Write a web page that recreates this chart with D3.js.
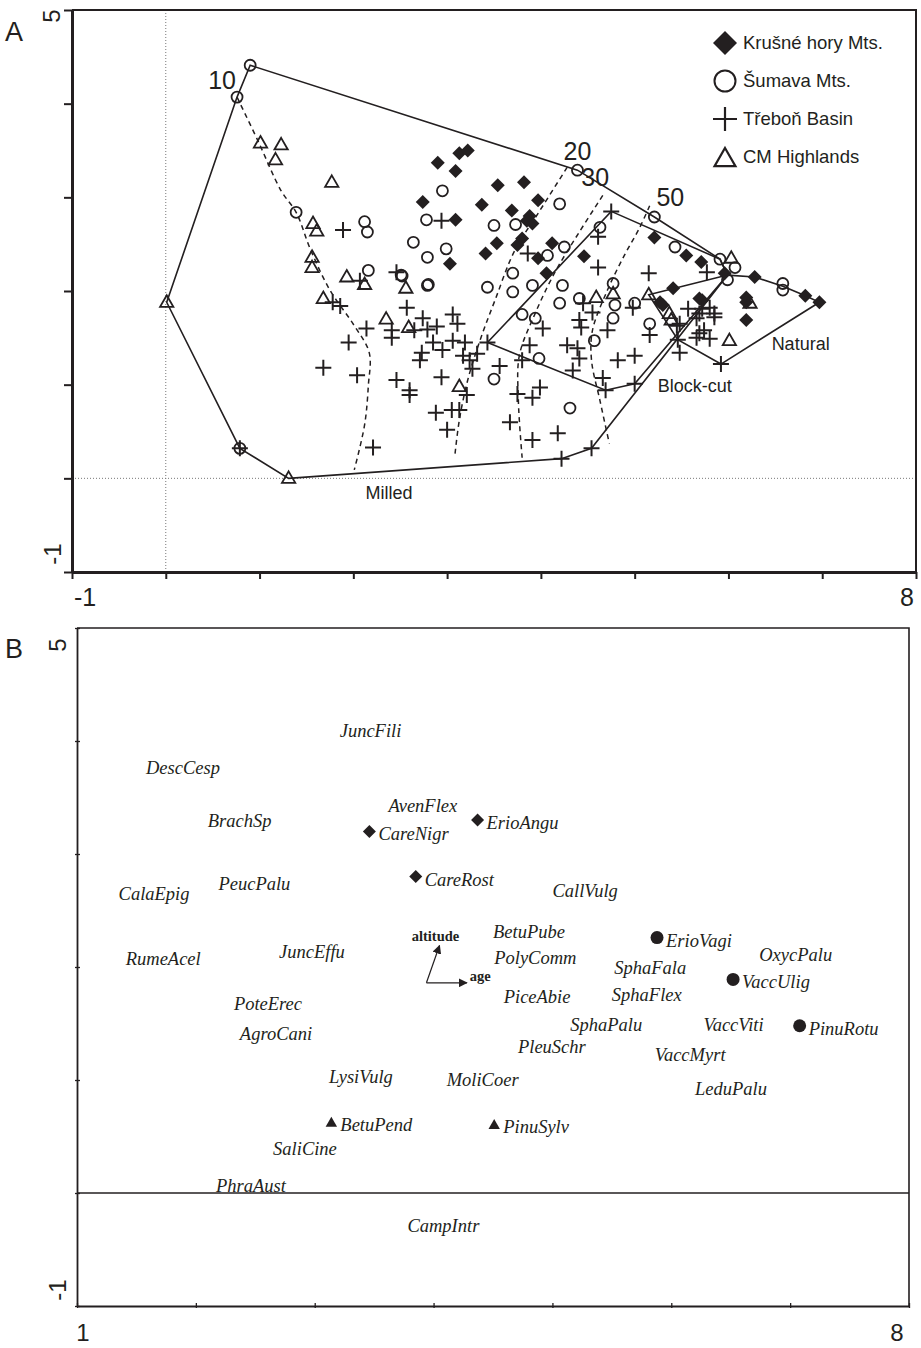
<!DOCTYPE html>
<html>
<head>
<meta charset="utf-8">
<script src="https://cdn.jsdelivr.net/npm/d3@7"></script>
<style>
body { margin: 0; background: #fff; }
</style>
</head>
<body>
<script>
// ---- panel A : site scores (axis 1, axis 2) ----
const krusne = [[2.90,3.37],[3.13,3.47],[3.22,3.50],[3.09,3.28],[3.54,3.13],[3.82,3.16],[2.74,2.95],
  [3.37,2.92],[3.97,2.97],[3.09,2.76],[3.69,2.86],[3.88,2.80],[3.85,2.75],[3.91,2.72],[3.53,2.51],
  [3.41,2.40],[3.75,2.49],[3.80,2.56],[3.03,2.29],[4.12,2.51],[3.97,2.35],[4.06,2.19],[4.46,2.37],
  [5.21,2.57],[5.55,2.38],[5.71,2.31],[5.96,2.19],[6.28,2.15],[6.82,1.95],[6.97,1.88],[5.41,2.03],
  [5.27,1.88],[5.30,1.85],[5.69,1.92],[5.72,1.90],[6.19,1.93],[6.19,1.88],[6.19,1.69]];

const sumava = [[0.90,4.41],[0.76,4.07],[1.39,2.84],[2.12,2.74],[2.15,2.63],[2.16,2.22],[2.52,2.16],
  [2.79,2.06],[0.79,0.32],[2.95,3.07],[2.78,2.76],[2.64,2.52],[2.99,2.45],[2.79,2.36],[2.80,2.07],
  [2.51,2.17],[3.50,2.70],[3.73,2.71],[4.20,2.93],[4.39,3.29],[4.25,2.47],[4.07,2.38],[3.70,2.19],
  [3.91,2.06],[3.43,2.04],[3.70,1.99],[4.23,2.06],[4.20,1.87],[4.41,1.92],[3.80,1.75],[3.94,1.71],
  [4.63,2.68],[4.77,2.08],[4.79,1.85],[4.77,1.71],[4.57,1.47],[3.50,1.06],[3.98,1.28],[4.31,0.75],
  [5.00,1.87],[5.16,1.65],[5.21,2.79],[5.43,2.47],[5.91,2.34],[6.07,2.25],[5.99,2.12],[6.58,2.08],
  [6.58,2.01]];

const trebon = [[1.89,2.65],[2.07,2.11],[2.46,2.20],[2.94,2.75],[4.75,2.85],[4.61,2.58],[4.61,2.25],
  [3.86,2.40],[0.79,0.32],[1.78,1.88],[1.86,1.84],[2.14,1.60],[1.95,1.45],[1.68,1.18],[2.04,1.10],
  [2.21,0.33],[2.57,1.82],[2.74,1.71],[2.41,1.58],[2.41,1.50],[2.65,1.58],[2.79,1.59],[2.89,1.62],
  [3.06,1.75],[3.11,1.65],[2.85,1.45],[2.73,1.34],[2.71,1.26],[2.95,1.37],[3.06,1.47],[3.19,1.45],
  [3.17,1.31],[3.24,1.26],[3.32,1.33],[3.27,1.17],[3.43,1.45],[3.56,1.20],[2.46,1.05],[2.60,0.94],
  [2.60,0.89],[2.94,1.08],[3.21,0.89],[2.88,0.70],[3.05,0.73],[3.13,0.73],[3.00,0.52],[4.02,1.60],
  [3.88,1.42],[3.80,1.26],[3.99,0.97],[3.91,0.86],[3.75,0.90],[3.67,0.60],[3.91,0.41],[4.18,0.48],
  [4.22,0.21],[4.54,0.32],[4.45,1.87],[4.55,1.77],[4.41,1.69],[4.43,1.61],[4.71,1.58],[4.28,1.42],
  [4.39,1.39],[4.41,1.28],[4.34,1.15],[4.66,1.07],[4.69,0.94],[4.82,1.26],[5.00,1.31],[4.98,1.82],
  [5.45,1.63],[5.48,1.65],[5.16,1.53],[5.46,1.48],[5.48,1.34],[5.57,1.81],[5.69,1.76],[5.72,1.81],
  [5.80,1.82],[5.66,1.71],[5.85,1.76],[5.85,1.72],[5.66,1.50],[5.69,1.55],[5.74,1.58],[5.80,1.49],
  [5.92,1.22],[5.00,1.01],[5.15,2.19],[5.77,2.20]];

const cmHigh = [[0.01,1.88],[1.31,0.00],[1.01,3.58],[1.23,3.56],[1.17,3.40],[1.77,3.16],[1.57,2.72],
  [1.61,2.64],[1.56,2.36],[1.56,2.25],[1.93,2.15],[2.12,2.07],[2.56,2.03],[1.68,1.92],[2.35,1.70],
  [2.59,1.61],[3.13,0.98],[4.59,1.93],[4.77,1.97],[5.15,1.96],[5.37,1.76],[5.39,1.69],[6.01,1.47],
  [6.03,2.35],[6.23,1.87]];

// envelopes of the three harvest types
const hullMilled = [[0.90,4.41],[4.39,3.29],[5.21,2.79],[5.91,2.34],[5.99,2.17],[4.54,0.32],[4.22,0.21],
  [1.31,0.00],[0.79,0.32],[0.01,1.88],[0.76,4.07]];
const hullBlock = [[4.75,2.85],[5.91,2.34],[5.99,2.17],[5.00,1.01],[4.69,0.94],[3.43,1.45]];
const hullNatural = [[5.15,1.96],[5.99,2.17],[6.28,2.15],[6.58,2.05],[6.82,1.95],[6.97,1.88],
  [5.92,1.22],[5.46,1.48]];
const hullLabels = ["Milled", "Block-cut", "Natural"];
const hullLabelPos = [[2.38,-0.15],[5.64,0.99],[6.77,1.44]];

// age isolines (years)
const isoAges = ["10", "20", "30", "50"];
const isoLines = [
  [[0.76,4.07],[0.98,3.61],[1.23,3.07],[1.39,2.84],[1.54,2.45],[1.75,2.01],[2.01,1.63],[2.17,1.34],[2.16,0.99],[2.12,0.57],[2.01,0.09]],
  [[4.28,3.32],[3.99,2.86],[3.72,2.43],[3.51,1.90],[3.35,1.47],[3.22,1.05],[3.13,0.62],[3.08,0.22]],
  [[4.66,3.02],[4.41,2.63],[4.15,2.20],[3.93,1.74],[3.77,1.31],[3.76,0.83],[3.80,0.22]],
  [[5.16,2.91],[5.05,2.67],[4.89,2.38],[4.71,2.01],[4.55,1.58],[4.54,1.26],[4.63,0.83],[4.73,0.37]]
];
const isoLabelPos = [[0.60,4.25],[4.39,3.49],[4.58,3.21],[5.38,3.00]];

const regions = ["Krušné hory Mts.", "Šumava Mts.", "Třeboň Basin", "CM Highlands"];

// ---- panel B : species scores ----
const spNames = ["JuncFili","DescCesp","AvenFlex","BrachSp","CalaEpig","PeucPalu","CallVulg","BetuPube",
  "OxycPalu","PolyComm","SphaFala","RumeAcel","JuncEffu","PoteErec","SphaFlex","PiceAbie","AgroCani",
  "SphaPalu","VaccViti","PleuSchr","VaccMyrt","LysiVulg","MoliCoer","LeduPalu","SaliCine","PhraAust","CampIntr"];
const spX = [3.21,1.58,3.62,2.10,1.35,2.19,5.00,4.50,6.74,4.51,5.52,1.41,2.70,2.32,5.50,4.59,2.37,
  5.15,6.27,4.71,5.86,3.12,4.11,6.20,2.65,2.17,3.78];
const spY = [4.08,3.75,3.42,3.28,2.64,2.73,2.66,2.30,2.10,2.07,1.98,2.06,2.12,1.66,1.74,1.73,1.40,
  1.48,1.48,1.28,1.21,1.02,0.99,0.91,0.38,0.05,-0.30];

// species with a symbol (diamond: Krušné hory, circle: peat bog, triangle: lowland)
const markNames = ["CareNigr","ErioAngu","CareRost","ErioVagi","VaccUlig","PinuRotu","BetuPend","PinuSylv"];
const markX = [3.46,4.37,3.85,5.88,6.52,7.08,3.14,4.51];
const markY = [3.20,3.30,2.80,2.26,1.89,1.48,0.63,0.61];
const markType = ["diamond","diamond","diamond","circle","circle","circle","triangle","triangle"];

// environmental variables (passive)
const envNames = ["altitude", "age"];
const envOrigin = [3.94, 1.86];
const envTips = [[4.05,2.19],[4.28,1.86]];

const W = 921, H = 1348;
const ink = "#231f20";

const svg = d3.select("body").append("svg")
  .attr("width", W).attr("height", H)
  .style("font-family", "'Liberation Sans', Arial, sans-serif");

svg.append("rect").attr("width", W).attr("height", H).attr("fill", "#fff");

function symbolPath(type, s) {
  if (type === "diamond") return `M0,${-s}L${s},0L0,${s}L${-s},0Z`;
  if (type === "plus") return `M${-s},0H${s}M0,${-s}V${s}`;
  if (type === "triangle") return `M0,${-s}L${s * 0.95},${s * 0.65}L${-s * 0.95},${s * 0.65}Z`;
  return "";
}

// ================= PANEL A =================
const xA = d3.scaleLinear().domain([-1, 8]).range([72, 916]);
const yA = d3.scaleLinear().domain([-1, 5]).range([572, 10]);
const gA = svg.append("g");

// dotted zero lines
gA.append("line").attr("x1", xA(0)).attr("x2", xA(0)).attr("y1", yA(5)).attr("y2", yA(-1))
  .attr("stroke", "#777").attr("stroke-dasharray", "1,2");
gA.append("line").attr("x1", xA(-1)).attr("x2", xA(8)).attr("y1", yA(0)).attr("y2", yA(0))
  .attr("stroke", "#777").attr("stroke-dasharray", "1,2");

// frame
gA.append("path")
  .attr("d", `M${xA(-1)},${yA(5)}H${xA(8)}V${yA(-1)}`)
  .attr("fill", "none").attr("stroke", ink).attr("stroke-width", 2);

const axL = gA.append("g").attr("transform", `translate(${xA(-1)},0)`)
  .call(d3.axisLeft(yA).tickValues(d3.range(-1, 6)).tickSize(8).tickSizeOuter(0).tickFormat(""));
const axB = gA.append("g").attr("transform", `translate(0,${yA(-1)})`)
  .call(d3.axisBottom(xA).tickValues(d3.range(-1, 9)).tickSize(7).tickSizeOuter(0).tickFormat(""));
[axL, axB].forEach(a => {
  a.select(".domain").attr("stroke", ink).attr("stroke-width", 3);
  a.selectAll(".tick line").attr("stroke", ink).attr("stroke-width", 2);
});

// end labels
gA.append("text").attr("transform", `translate(60,${yA(5) + 6}) rotate(-90)`)
  .attr("text-anchor", "middle").attr("font-size", 24).attr("fill", ink).text("5");
gA.append("text").attr("transform", `translate(61,${yA(-1) - 18}) rotate(-90)`)
  .attr("text-anchor", "middle").attr("font-size", 24).attr("fill", ink).text("-1");
gA.append("text").attr("x", xA(-1) + 13).attr("y", 606)
  .attr("text-anchor", "middle").attr("font-size", 25).attr("fill", ink).text("-1");
gA.append("text").attr("x", xA(8) - 9).attr("y", 606)
  .attr("text-anchor", "middle").attr("font-size", 25).attr("fill", ink).text("8");
gA.append("text").attr("x", 5).attr("y", 41).attr("font-size", 27).attr("fill", ink).text("A");

// hulls
const lineA = d3.line().x(d => xA(d[0])).y(d => yA(d[1])).curve(d3.curveLinearClosed);
[hullMilled, hullBlock, hullNatural].forEach(h => {
  gA.append("path").attr("d", lineA(h)).attr("fill", "none")
    .attr("stroke", ink).attr("stroke-width", 1.6);
});
hullLabels.forEach((t, i) => {
  gA.append("text").attr("x", xA(hullLabelPos[i][0])).attr("y", yA(hullLabelPos[i][1]))
    .attr("text-anchor", "middle").attr("dy", "0.35em").attr("font-size", 18)
    .attr("fill", ink).text(t);
});

// isolines
const isoLine = d3.line().x(d => xA(d[0])).y(d => yA(d[1])).curve(d3.curveCatmullRom);
isoLines.forEach((l, i) => {
  gA.append("path").attr("d", isoLine(l)).attr("fill", "none")
    .attr("stroke", ink).attr("stroke-width", 1.5).attr("stroke-dasharray", "5,4");
  gA.append("text").attr("x", xA(isoLabelPos[i][0])).attr("y", yA(isoLabelPos[i][1]))
    .attr("text-anchor", "middle").attr("dy", "0.35em").attr("font-size", 25)
    .attr("fill", ink).text(isoAges[i]);
});

// sites
gA.selectAll(".dia").data(krusne).join("path")
  .attr("transform", d => `translate(${xA(d[0])},${yA(d[1])})`)
  .attr("d", symbolPath("diamond", 7)).attr("fill", ink);
gA.selectAll(".cir").data(sumava).join("circle")
  .attr("cx", d => xA(d[0])).attr("cy", d => yA(d[1])).attr("r", 5.5)
  .attr("fill", "none").attr("stroke", ink).attr("stroke-width", 1.8);
gA.selectAll(".plu").data(trebon).join("path")
  .attr("transform", d => `translate(${xA(d[0])},${yA(d[1])})`)
  .attr("d", symbolPath("plus", 8)).attr("fill", "none")
  .attr("stroke", ink).attr("stroke-width", 2);
gA.selectAll(".tri").data(cmHigh).join("path")
  .attr("transform", d => `translate(${xA(d[0])},${yA(d[1])})`)
  .attr("d", symbolPath("triangle", 7)).attr("fill", "none")
  .attr("stroke", ink).attr("stroke-width", 1.8);

// legend
const leg = gA.append("g").attr("transform", "translate(725,43)");
regions.forEach((r, i) => {
  const g = leg.append("g").attr("transform", `translate(0,${i * 38})`);
  if (i === 0) g.append("path").attr("d", symbolPath("diamond", 12)).attr("fill", ink);
  if (i === 1) g.append("circle").attr("r", 10.5).attr("fill", "none").attr("stroke", ink).attr("stroke-width", 2);
  if (i === 2) g.append("path").attr("d", symbolPath("plus", 12)).attr("stroke", ink).attr("stroke-width", 2.2);
  if (i === 3) g.append("path").attr("transform", "translate(0,2)").attr("d", symbolPath("triangle", 11))
    .attr("fill", "none").attr("stroke", ink).attr("stroke-width", 2.2);
  g.append("text").attr("x", 18).attr("dy", "0.35em").attr("font-size", 18.5)
    .attr("fill", ink).text(r);
});

// ================= PANEL B =================
const xB = d3.scaleLinear().domain([1, 8]).range([77, 909]);
const yB = d3.scaleLinear().domain([-1, 5]).range([1306, 628]);
const gB = svg.append("g");

gB.append("path")
  .attr("d", `M${xB(1)},${yB(5)}H${xB(8)}V${yB(-1)}`)
  .attr("fill", "none").attr("stroke", ink).attr("stroke-width", 1.6);
gB.append("line").attr("x1", xB(1)).attr("x2", xB(8)).attr("y1", yB(0)).attr("y2", yB(0))
  .attr("stroke", ink).attr("stroke-width", 1.3);

const bxL = gB.append("g").attr("transform", `translate(${xB(1)},0)`)
  .call(d3.axisLeft(yB).tickValues(d3.range(-1, 6)).tickSize(5).tickSizeOuter(0).tickFormat(""));
const bxB = gB.append("g").attr("transform", `translate(0,${yB(-1)})`)
  .call(d3.axisBottom(xB).tickValues(d3.range(1, 9)).tickSize(5).tickSizeOuter(0).tickFormat(""));
[bxL, bxB].forEach(a => {
  a.select(".domain").attr("stroke", ink).attr("stroke-width", 1.8);
  a.selectAll(".tick line").attr("stroke", ink).attr("stroke-width", 1.3)
    .attr("transform", a === bxL ? "translate(3,0)" : "translate(0,-3)");
});

gB.append("text").attr("transform", `translate(66,${yB(5) + 17}) rotate(-90)`)
  .attr("text-anchor", "middle").attr("font-size", 24).attr("fill", ink).text("5");
gB.append("text").attr("transform", `translate(66,${yB(-1) - 16}) rotate(-90)`)
  .attr("text-anchor", "middle").attr("font-size", 24).attr("fill", ink).text("-1");
gB.append("text").attr("x", xB(1) + 6).attr("y", 1341)
  .attr("text-anchor", "middle").attr("font-size", 24).attr("fill", ink).text("1");
gB.append("text").attr("x", xB(8) - 12).attr("y", 1341)
  .attr("text-anchor", "middle").attr("font-size", 24).attr("fill", ink).text("8");
gB.append("text").attr("x", 5).attr("y", 658).attr("font-size", 27).attr("fill", ink).text("B");

const serif = "'Liberation Serif', 'Times New Roman', serif";

// plain species labels
spNames.forEach((n, i) => {
  gB.append("text").attr("x", xB(spX[i])).attr("y", yB(spY[i]) + 5)
    .attr("font-family", serif).attr("font-style", "italic").attr("font-size", 18.5)
    .attr("fill", ink).text(n);
});

// species with symbols
markNames.forEach((n, i) => {
  const cx = xB(markX[i]), cy = yB(markY[i]);
  if (markType[i] === "circle") {
    gB.append("circle").attr("cx", cx).attr("cy", cy).attr("r", 6.5).attr("fill", ink);
  } else if (markType[i] === "diamond") {
    gB.append("path").attr("transform", `translate(${cx},${cy})`)
      .attr("d", symbolPath("diamond", 6.5)).attr("fill", ink);
  } else {
    gB.append("path").attr("transform", `translate(${cx},${cy + 1})`)
      .attr("d", symbolPath("triangle", 6)).attr("fill", ink);
  }
  gB.append("text").attr("x", cx + 9).attr("y", cy + 9)
    .attr("font-family", serif).attr("font-style", "italic").attr("font-size", 18.5)
    .attr("fill", ink).text(n);
});

// environmental arrows
const defs = svg.append("defs");
defs.append("marker").attr("id", "arr").attr("viewBox", "0 0 10 10")
  .attr("refX", 9).attr("refY", 5).attr("markerWidth", 9).attr("markerHeight", 9)
  .attr("markerUnits", "userSpaceOnUse").attr("orient", "auto")
  .append("path").attr("d", "M0,0L10,5L0,10Z").attr("fill", ink);

envTips.forEach((t, i) => {
  gB.append("line")
    .attr("x1", xB(envOrigin[0])).attr("y1", yB(envOrigin[1]))
    .attr("x2", xB(t[0])).attr("y2", yB(t[1]))
    .attr("stroke", ink).attr("stroke-width", 1.2).attr("marker-end", "url(#arr)");
});
gB.append("text").attr("x", xB(envTips[0][0]) - 4).attr("y", yB(envTips[0][1]) - 5)
  .attr("text-anchor", "middle").attr("font-family", serif).attr("font-weight", "bold")
  .attr("font-size", 14.5).attr("fill", ink).text(envNames[0]);
gB.append("text").attr("x", xB(envTips[1][0]) + 3).attr("y", yB(envTips[1][1]) - 2)
  .attr("font-family", serif).attr("font-weight", "bold")
  .attr("font-size", 14.5).attr("fill", ink).text(envNames[1]);
</script>
</body>
</html>
